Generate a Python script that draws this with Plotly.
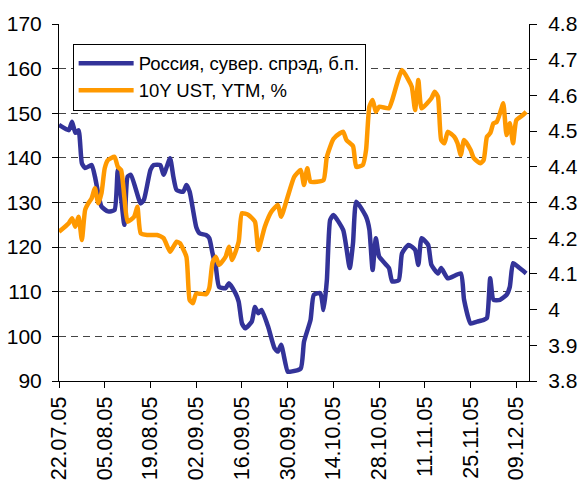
import plotly.graph_objects as go

# Russia sovereign spread, b.p. (left axis)
spread_dates = [
    "2005-07-22", "2005-07-25", "2005-07-26", "2005-07-27", "2005-07-28", "2005-07-29", "2005-07-30",
    "2005-08-01", "2005-08-02", "2005-08-03", "2005-08-04", "2005-08-06", "2005-08-08", "2005-08-09",
    "2005-08-11", "2005-08-12", "2005-08-13", "2005-08-16", "2005-08-17", "2005-08-19", "2005-08-20",
    "2005-08-22", "2005-08-23", "2005-08-25", "2005-08-26", "2005-08-27", "2005-08-29", "2005-08-30",
    "2005-08-31",
    "2005-09-02", "2005-09-03", "2005-09-05", "2005-09-06", "2005-09-07", "2005-09-08", "2005-09-09",
    "2005-09-11", "2005-09-12", "2005-09-14", "2005-09-15", "2005-09-16", "2005-09-17", "2005-09-19",
    "2005-09-20", "2005-09-21", "2005-09-22", "2005-09-24", "2005-09-26", "2005-09-27", "2005-09-28",
    "2005-09-30",
    "2005-10-01", "2005-10-04", "2005-10-05", "2005-10-07", "2005-10-08", "2005-10-10", "2005-10-11",
    "2005-10-12", "2005-10-13", "2005-10-14", "2005-10-17", "2005-10-19", "2005-10-20", "2005-10-21",
    "2005-10-24", "2005-10-25", "2005-10-26", "2005-10-27", "2005-10-28", "2005-10-31",
    "2005-11-01", "2005-11-03", "2005-11-04", "2005-11-06", "2005-11-08", "2005-11-09", "2005-11-10",
    "2005-11-12", "2005-11-13", "2005-11-15", "2005-11-16", "2005-11-18", "2005-11-22", "2005-11-23",
    "2005-11-25", "2005-11-27", "2005-11-29", "2005-11-30",
    "2005-12-01", "2005-12-02", "2005-12-04", "2005-12-06", "2005-12-07", "2005-12-08", "2005-12-10",
    "2005-12-12",
]
spread_values = [
    147.4, 146.2, 148.1, 145.6, 146.2, 138.8, 137.7,
    138.4, 135.8, 132.1, 129.1, 128.0, 128.3, 137.3,
    125.0, 135.8, 136.2, 129.8, 130.6, 137.3, 138.4,
    138.4, 136.2, 139.9, 135.8, 132.8, 132.4, 133.9,
    132.4,
    124.5, 123.1, 122.7, 122.0, 118.6, 115.6, 111.1,
    110.8, 111.9, 109.7, 107.8, 102.9, 101.8, 103.3,
    106.6, 105.2, 105.9, 102.2, 97.3, 96.6, 98.1,
    92.1,
    92.1, 92.8, 98.8, 103.7, 109.3, 109.7, 105.9,
    112.6, 126.1, 127.2, 123.8, 115.3, 120.9, 130.2,
    126.8, 124.0, 114.9, 122.0, 117.9, 115.3,
    112.3, 112.6, 118.6, 120.5, 119.4, 116.0, 122.0,
    120.5, 116.0, 114.1, 115.3, 113.0, 114.1, 108.2,
    102.9, 103.3, 103.7, 104.1,
    113.0, 108.2, 108.2, 109.3, 111.1, 116.4, 115.3,
    114.1,
]

# 10Y UST, YTM, % (right axis)
ust_dates = [
    "2005-07-22", "2005-07-25", "2005-07-26", "2005-07-27", "2005-07-28", "2005-07-29", "2005-07-30",
    "2005-07-31", "2005-08-01", "2005-08-02", "2005-08-03", "2005-08-04", "2005-08-05", "2005-08-06",
    "2005-08-08", "2005-08-09", "2005-08-10", "2005-08-11", "2005-08-12", "2005-08-14", "2005-08-15",
    "2005-08-16", "2005-08-18", "2005-08-21", "2005-08-23", "2005-08-25", "2005-08-26", "2005-08-27",
    "2005-08-28", "2005-08-30", "2005-08-31",
    "2005-09-01", "2005-09-02", "2005-09-05", "2005-09-06", "2005-09-07", "2005-09-08", "2005-09-09",
    "2005-09-11", "2005-09-12", "2005-09-13", "2005-09-15", "2005-09-16", "2005-09-18", "2005-09-20",
    "2005-09-21", "2005-09-23", "2005-09-25", "2005-09-27", "2005-09-28", "2005-09-30",
    "2005-10-02", "2005-10-04", "2005-10-05", "2005-10-06", "2005-10-07", "2005-10-09", "2005-10-11",
    "2005-10-12", "2005-10-14", "2005-10-16", "2005-10-17", "2005-10-18", "2005-10-20", "2005-10-21",
    "2005-10-23", "2005-10-24", "2005-10-25", "2005-10-26", "2005-10-27", "2005-10-28", "2005-10-31",
    "2005-11-01", "2005-11-04", "2005-11-06", "2005-11-07", "2005-11-08", "2005-11-09", "2005-11-10",
    "2005-11-13", "2005-11-14", "2005-11-15", "2005-11-16", "2005-11-17", "2005-11-18", "2005-11-20",
    "2005-11-21", "2005-11-22", "2005-11-23", "2005-11-25", "2005-11-26", "2005-11-28", "2005-11-29",
    "2005-11-30",
    "2005-12-01", "2005-12-02", "2005-12-03", "2005-12-04", "2005-12-05", "2005-12-06", "2005-12-07",
    "2005-12-08", "2005-12-09", "2005-12-11", "2005-12-12",
]
ust_values = [
    4.218, 4.242, 4.256, 4.232, 4.260, 4.195, 4.279,
    4.298, 4.312, 4.340, 4.298, 4.326, 4.396, 4.419,
    4.428, 4.400, 4.391, 4.316, 4.246, 4.260, 4.288,
    4.214, 4.209, 4.209, 4.200, 4.162, 4.176, 4.190,
    4.186, 4.148, 4.027,
    4.018, 4.045, 4.043, 4.060, 4.132, 4.148, 4.125,
    4.148, 4.176, 4.139, 4.190, 4.270, 4.265, 4.246,
    4.167, 4.232, 4.274, 4.293, 4.260, 4.316,
    4.372, 4.391, 4.349, 4.396, 4.358, 4.358, 4.363,
    4.428, 4.478, 4.494, 4.498, 4.475, 4.458, 4.400,
    4.405, 4.447, 4.568, 4.587, 4.554, 4.568, 4.564,
    4.587, 4.671, 4.643, 4.624, 4.559, 4.643, 4.564,
    4.592, 4.610, 4.596, 4.475, 4.466, 4.498, 4.484,
    4.466, 4.433, 4.475, 4.447, 4.424, 4.410, 4.419,
    4.484,
    4.494, 4.522, 4.526, 4.550, 4.578, 4.489, 4.522,
    4.466, 4.531, 4.545, 4.554,
]

spread_name = "Россия, сувер. спрэд, б.п."
ust_name = "10Y UST, YTM, %"

BLUE = "#333399"
ORANGE = "#FF9900"
FONT = "Liberation Sans, Arial, sans-serif"

fig = go.Figure()
fig.add_trace(go.Scatter(
    x=ust_dates, y=ust_values, name=ust_name, yaxis="y2", mode="lines",
    line=dict(color=ORANGE, width=4.5, shape="spline", smoothing=0.5),
    legendrank=2, legendgroup="b",
))
fig.add_trace(go.Scatter(
    x=spread_dates, y=spread_values, name=spread_name, yaxis="y", mode="lines",
    line=dict(color=BLUE, width=4.5, shape="spline", smoothing=0.5),
    legendrank=1, legendgroup="a",
))

fig.update_layout(
    width=578, height=486, autosize=False,
    margin=dict(l=59, r=49, t=24, b=105, pad=0, autoexpand=False),
    paper_bgcolor="white", plot_bgcolor="white",
    font=dict(family=FONT, size=21, color="black"),
    showlegend=True,
    legend=dict(
        x=0.029, y=0.945, xanchor="left", yanchor="top",
        bgcolor="white", bordercolor="black", borderwidth=1,
        font=dict(family=FONT, size=18.5, color="black"),
        itemwidth=55, tracegroupgap=2, traceorder="normal",
    ),
    xaxis=dict(
        type="date", automargin=False,
        range=["2005-07-22", "2005-12-12 21:00"],
        tickmode="linear", tick0="2005-07-22", dtick=14 * 86400000,
        tickformat="%d.%m.%y", tickangle=-90,
        ticks="outside", ticklen=6, tickcolor="black",
        showline=True, linecolor="black", linewidth=1,
        showgrid=False, zeroline=False,
        tickfont=dict(size=21.5), ticklabelstandoff=0,
    ),
    yaxis=dict(
        automargin=False,
        range=[90, 170], tickmode="linear", tick0=90, dtick=10,
        ticks="outside", ticklen=6, tickcolor="black",
        showline=True, linecolor="black", linewidth=1,
        showgrid=True, gridcolor="#444444", griddash="7px,5px", gridwidth=1,
        zeroline=False, tickfont=dict(size=21), ticklabelstandoff=6,
    ),
    yaxis2=dict(
        automargin=False,
        range=[3.8, 4.8], tickmode="linear", tick0=3.8, dtick=0.1,
        overlaying="y", side="right", anchor="x",
        ticks="outside", ticklen=7, tickcolor="black",
        showline=True, linecolor="black", linewidth=1,
        showgrid=False, zeroline=False, tickfont=dict(size=21),
        ticklabelstandoff=7,
    ),
    yaxis3=dict(
        automargin=False,
        range=[3.8, 4.8], tickmode="linear", tick0=3.8, dtick=0.1,
        overlaying="y", side="right", anchor="x",
        ticks="inside", ticklen=7, tickcolor="black",
        showticklabels=False, showline=False, showgrid=False, zeroline=False,
    ),
)

fig.write_html(
    "out.html",
    config={"displayModeBar": False},
    post_script="document.body.style.margin='0';document.body.style.overflow='hidden';",
)
